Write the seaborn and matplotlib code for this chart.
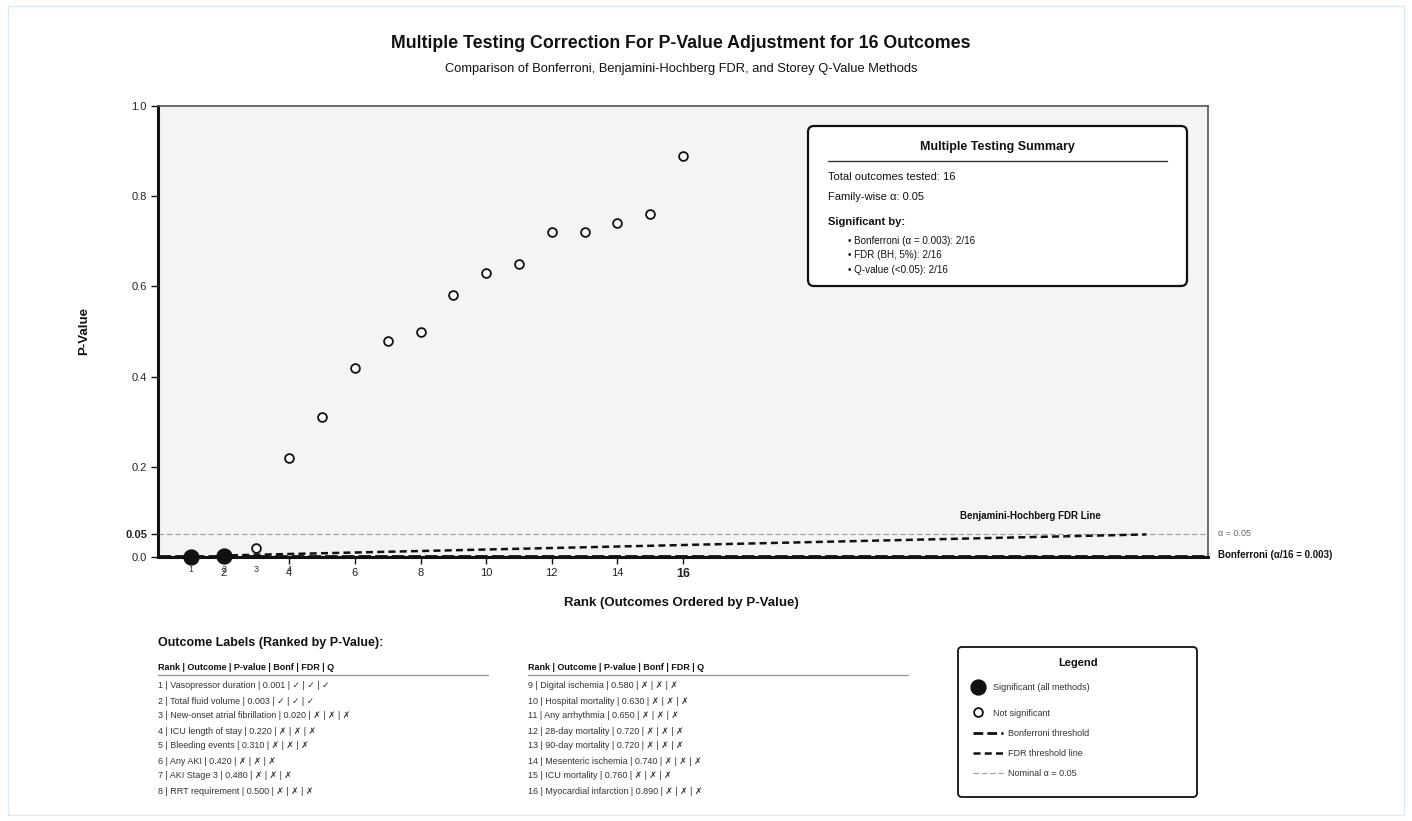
import numpy as np
import pandas as pd
import matplotlib
matplotlib.use("Agg")
import matplotlib.pyplot as plt
import seaborn as sns
from matplotlib.patches import FancyBboxPatch, Rectangle

# ---- data -------------------------------------------------------------
ranks = list(range(1, 17))
outcomes = [
    "Vasopressor duration", "Total fluid volume", "New-onset atrial fibrillation",
    "ICU length of stay", "Bleeding events", "Any AKI", "AKI Stage 3",
    "RRT requirement", "Digital ischemia", "Hospital mortality", "Any arrhythmia",
    "28-day mortality", "90-day mortality", "Mesenteric ischemia", "ICU mortality",
    "Myocardial infarction",
]
p_values = [0.001, 0.003, 0.020, 0.220, 0.310, 0.420, 0.480, 0.500,
            0.580, 0.630, 0.650, 0.720, 0.720, 0.740, 0.760, 0.890]
bonf_sig = [True, True] + [False] * 14
fdr_sig = [True, True] + [False] * 14
q_sig = [True, True] + [False] * 14
y_ticks = [0.0, 0.05, 0.2, 0.4, 0.6, 0.8, 1.0]
y_tick_labels = ["0.0", "0.05", "0.2", "0.4", "0.6", "0.8", "1.0"]
x_ticks = [2, 4, 6, 8, 10, 12, 14, 16]

alpha = 0.05
m = len(p_values)
bonf_alpha = alpha / m

# line styles shared by plot and legend
BONF_LS = (0, (4.5, 1.5))
FDR_LS = (0, (2.8, 1.7))
NOM_LS = (0, (5, 2.5))

# ---- style ------------------------------------------------------------
sns.set_theme(style="white")
plt.rcParams["font.family"] = ["Liberation Sans", "DejaVu Sans"]

W, H = 1412, 821
fig = plt.figure(figsize=(W / 100, H / 100), dpi=100)
fig.patch.set_facecolor("white")


def fx(x):
    return x / W


def fy(y):
    return 1 - y / H


ax = fig.add_axes([fx(158), fy(557), (1208 - 158) / W, (557 - 106) / H])
ax.set_facecolor("#f4f4f4")

df = pd.DataFrame({"rank": ranks, "p": p_values,
                   "sig": [b and f and q for b, f, q in zip(bonf_sig, fdr_sig, q_sig)]})

# reference lines
ax.axhline(alpha, color="#9a9a9a", lw=0.8, ls=NOM_LS, zorder=2)
ax.axhline(bonf_alpha, color="#111111", lw=2.0, ls=BONF_LS, zorder=3)
fdr_x = np.array(ranks) * (2 * m) / (m + 1)
fdr_y = np.array(ranks) / m * alpha
sns.lineplot(x=fdr_x, y=fdr_y, ax=ax, color="#111111", lw=1.8,
             linestyle=FDR_LS, zorder=3)

sns.scatterplot(data=df[df.sig], x="rank", y="p", s=115, color="#111111",
                edgecolor="#111111", linewidth=1, ax=ax, clip_on=False,
                zorder=6, legend=False)
sns.scatterplot(data=df[~df.sig], x="rank", y="p", s=40, color="white",
                edgecolor="#111111", linewidth=1.3, ax=ax, clip_on=False,
                zorder=6, legend=False)

ax.set_xlim(0, 2 * m)
ax.set_ylim(0, 1)
ax.set_xlabel("")
ax.set_ylabel("")

ax.set_xticks(x_ticks)
ax.set_xticklabels([str(t) for t in x_ticks])
ax.set_yticks(y_ticks)
ax.set_yticklabels(y_tick_labels)
ax.tick_params(axis="both", bottom=True, left=True, direction="out",
               length=5, width=1, color="#111111", labelsize=8,
               labelcolor="#222222", pad=3)
for lab in ax.get_xticklabels():
    if lab.get_text() == "16":
        lab.set_fontweight("bold")
        lab.set_fontsize(9)
for lab in ax.get_yticklabels():
    if lab.get_text() == "0.05":
        lab.set_fontweight("bold")

for side in ("left", "bottom"):
    ax.spines[side].set_color("#111111")
    ax.spines[side].set_linewidth(2.2)
for side in ("top", "right"):
    ax.spines[side].set_color("#555555")
    ax.spines[side].set_linewidth(1.2)

# small rank numbers beneath the first points
for r in ranks[:4]:
    ax.annotate(str(r), xy=(r, 0), xycoords=("data", "axes fraction"),
                xytext=(0, -9), textcoords="offset points", ha="center",
                va="center", fontsize=6.5, color="#333333")

# ---- overlay in pixel coordinates -------------------------------------
ov = fig.add_axes([0, 0, 1, 1])
ov.set_xlim(0, W)
ov.set_ylim(H, 0)
ov.axis("off")
ov.patch.set_alpha(0)

ov.add_patch(Rectangle((8, 6), 1396, 809, fill=False, edgecolor="#d8ebf5", lw=1))

ov.text(681, 43, "Multiple Testing Correction For P-Value Adjustment for 16 Outcomes",
        ha="center", va="center", fontsize=12.8, fontweight="bold", color="#111111")
ov.text(681, 69, "Comparison of Bonferroni, Benjamini-Hochberg FDR, and Storey Q-Value Methods",
        ha="center", va="center", fontsize=9.3, color="#111111")
ov.text(84, 331, "P-Value", ha="center", va="center", rotation=90,
        fontsize=9.5, fontweight="bold", color="#111111")
ov.text(681, 603, "Rank (Outcomes Ordered by P-Value)", ha="center", va="center",
        fontsize=9.5, fontweight="bold", color="#111111")

ov.text(1030, 516, "Benjamini-Hochberg FDR Line", ha="center", va="center",
        fontsize=7, fontweight="bold", color="#111111")
ov.text(1218, 534, "α = 0.05", ha="left", va="center", fontsize=6.5, color="#666666")
ov.text(1218, 555, "Bonferroni (α/16 = 0.003)", ha="left", va="center",
        fontsize=7, fontweight="bold", color="#111111")

# summary box
ov.add_patch(FancyBboxPatch((808, 126), 379, 160,
                            boxstyle="round,pad=0,rounding_size=6",
                            facecolor="white", edgecolor="#111111", lw=1.6, zorder=3))
ov.text(997, 147, "Multiple Testing Summary", ha="center", va="center",
        fontsize=9, fontweight="bold", color="#111111", zorder=4)
ov.plot([828, 1167], [161, 161], color="#333333", lw=1, zorder=4)
ov.text(828, 177, f"Total outcomes tested: {m}", ha="left", va="center",
        fontsize=8, color="#111111", zorder=4)
ov.text(828, 197, f"Family-wise α: {alpha}", ha="left", va="center",
        fontsize=8, color="#111111", zorder=4)
ov.text(828, 222, "Significant by:", ha="left", va="center",
        fontsize=8, fontweight="bold", color="#111111", zorder=4)
summary_lines = [
    f"• Bonferroni (α = {bonf_alpha:.3f}): {sum(bonf_sig)}/{m}",
    f"• FDR (BH, 5%): {sum(fdr_sig)}/{m}",
    f"• Q-value (<0.05): {sum(q_sig)}/{m}",
]
for i, s in enumerate(summary_lines):
    ov.text(848, 241 + i * 14.5, s, ha="left", va="center", fontsize=7.1,
            color="#111111", zorder=4)

# outcome table
ov.text(158, 643, "Outcome Labels (Ranked by P-Value):", ha="left", va="center",
        fontsize=9, fontweight="bold", color="#111111")
header = "Rank | Outcome | P-value | Bonf | FDR | Q"


def mark(flag):
    return "✓" if flag else "✗"


for col, x0 in enumerate((158, 528)):
    ov.text(x0, 668, header, ha="left", va="center", fontsize=6.5,
            fontweight="bold", color="#111111")
    ov.plot([x0, x0 + 330 if col == 0 else x0 + 380], [675, 675],
            color="#999999", lw=1)
    for j in range(8):
        i = col * 8 + j
        row = (f"{ranks[i]} | {outcomes[i]} | {p_values[i]:.3f} | "
               f"{mark(bonf_sig[i])} | {mark(fdr_sig[i])} | {mark(q_sig[i])}")
        ov.text(x0, 686 + j * 15, row, ha="left", va="center", fontsize=6.5,
                color="#333333")

# legend box
ov.add_patch(FancyBboxPatch((958, 647), 239, 150,
                            boxstyle="round,pad=0,rounding_size=4",
                            facecolor="white", edgecolor="#111111", lw=1.3))
ov.text(1078, 663, "Legend", ha="center", va="center", fontsize=8,
        fontweight="bold", color="#111111")
ov.scatter([978], [687], s=115, color="#111111", edgecolor="#111111", zorder=4)
ov.text(993, 688, "Significant (all methods)", ha="left", va="center",
        fontsize=6.5, color="#333333")
ov.scatter([978], [712], s=40, color="white", edgecolor="#111111", lw=1.3, zorder=4)
ov.text(993, 713, "Not significant", ha="left", va="center",
        fontsize=6.5, color="#333333")
ov.plot([973, 1003], [733, 733], color="#111111", lw=2.0, ls=(0, (3.5, 1.5)))
ov.text(1008, 733, "Bonferroni threshold", ha="left", va="center",
        fontsize=6.5, color="#333333")
ov.plot([973, 1003], [753, 753], color="#111111", lw=1.8, ls=FDR_LS)
ov.text(1008, 753, "FDR threshold line", ha="left", va="center",
        fontsize=6.5, color="#333333")
ov.plot([973, 1003], [773, 773], color="#9a9a9a", lw=0.8, ls=NOM_LS)
ov.text(1008, 773, "Nominal α = 0.05", ha="left", va="center",
        fontsize=6.5, color="#333333")

fig.savefig("out.png", dpi=100, facecolor="white")
